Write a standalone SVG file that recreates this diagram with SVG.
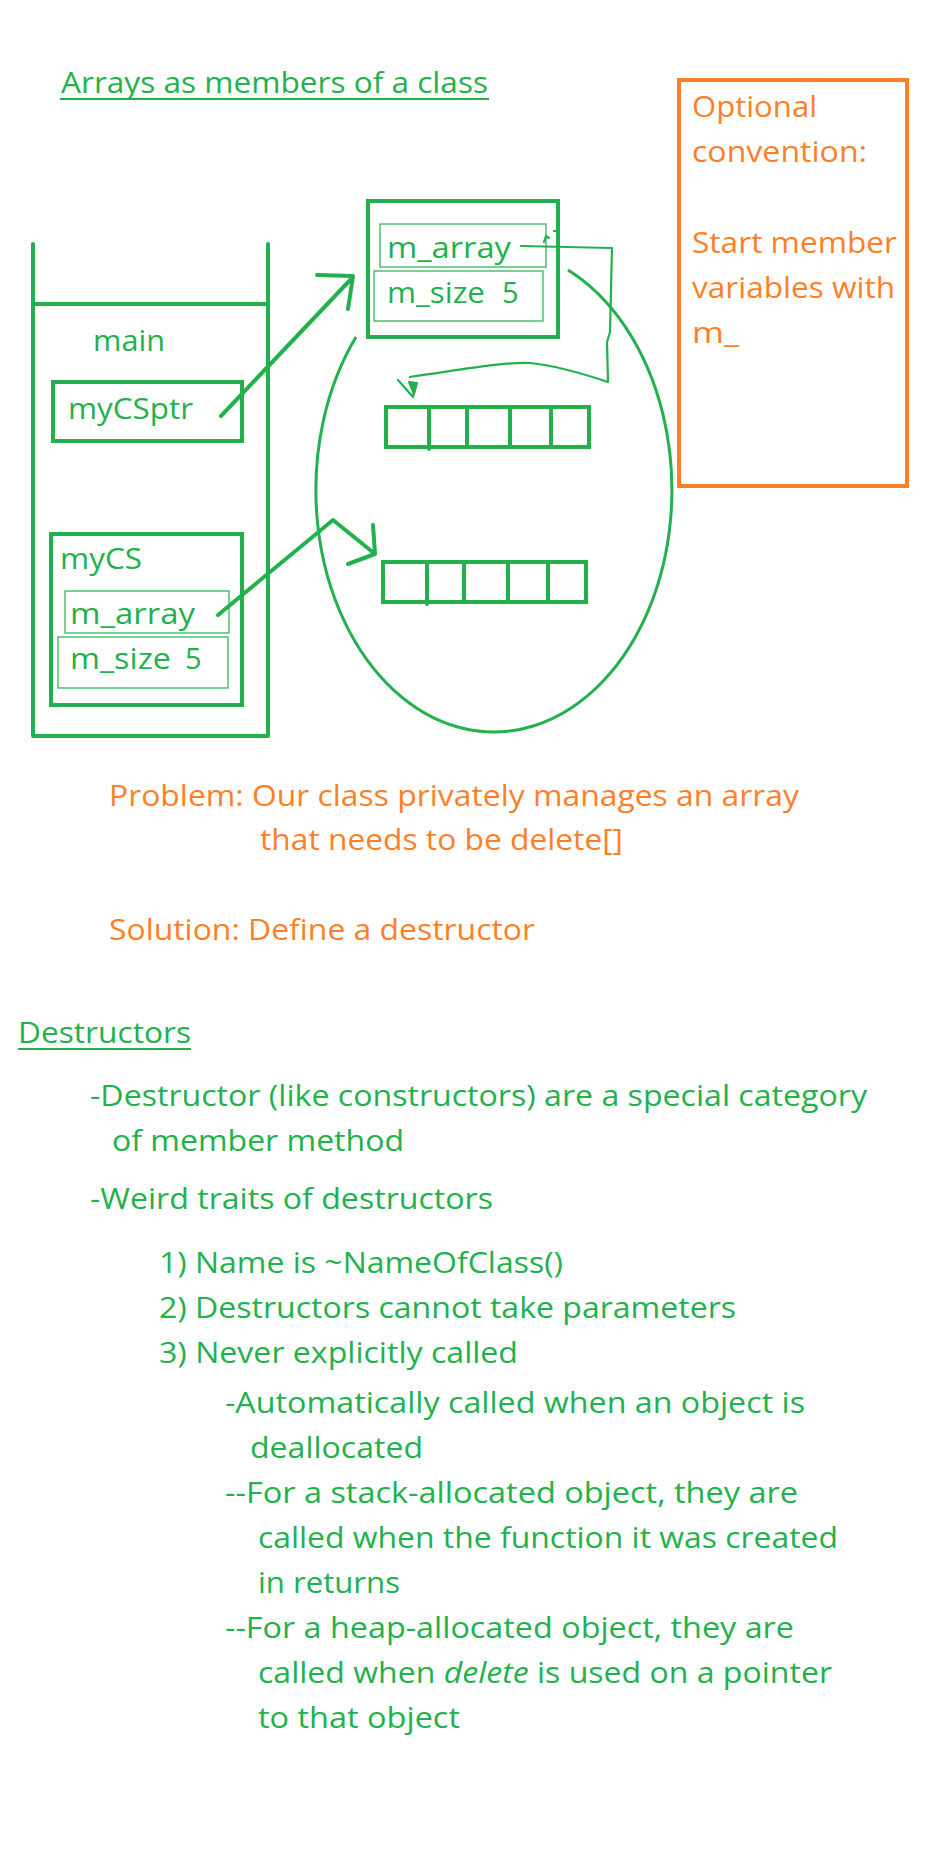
<svg xmlns="http://www.w3.org/2000/svg" width="928" height="1872" viewBox="0 0 928 1872">
<style>
.g{fill:#22B14C;font-family:"Open Sans","Noto Sans",sans-serif;font-size:29px}
.o{fill:#FF7F27;font-family:"Open Sans","Noto Sans",sans-serif;font-size:29px}
.box{fill:#fff;stroke:#22B14C;stroke-width:4}
.thin{fill:none;stroke:#22B14C;stroke-width:1.2}
.ln{fill:none;stroke:#22B14C;stroke-width:4;stroke-linecap:round;stroke-linejoin:round}
.ln2{fill:none;stroke:#22B14C;stroke-width:2.2;stroke-linecap:round;stroke-linejoin:round}
</style>
<rect width="928" height="1872" fill="#fff"/>

<g id="title">
<text class="g" x="61" y="93" font-size="31" textLength="427" lengthAdjust="spacingAndGlyphs">Arrays as members of a class</text>
<line x1="60" y1="99" x2="489" y2="99" stroke="#22B14C" stroke-width="2"/>
</g>

<g id="heap">
<path d="M568,270 A178,242 0 1 1 356,337" fill="none" stroke="#22B14C" stroke-width="3"/>
</g>

<g id="stack-frame">
<path class="ln" d="M33,244 L33,736 L268,736 L268,244 M33,304 L268,304" stroke-linecap="butt"/>
<text class="g" x="93" y="351" font-size="31" textLength="72" lengthAdjust="spacingAndGlyphs">main</text>
</g>

<g id="myCSptr">
<rect class="box" x="53" y="382" width="189" height="59"/>
<text class="g" x="68" y="419" textLength="125" lengthAdjust="spacingAndGlyphs">myCSptr</text>
</g>

<g id="myCS">
<rect class="box" x="51" y="534" width="191" height="171"/>
<text class="g" x="60" y="569" textLength="82" lengthAdjust="spacingAndGlyphs">myCS</text>
<rect class="thin" x="65" y="591" width="164" height="42"/>
<text class="g" x="70" y="624" textLength="125" lengthAdjust="spacingAndGlyphs">m_array</text>
<rect class="thin" x="58" y="637" width="170" height="51"/>
<text class="g" x="70" y="669"><tspan textLength="101" lengthAdjust="spacingAndGlyphs">m_size</tspan><tspan x="185">5</tspan></text>
</g>

<g id="heap-object">
<rect class="box" x="368" y="201" width="190" height="136"/>
<rect class="thin" x="380" y="224" width="166" height="43"/>
<text class="g" x="387" y="258" textLength="124" lengthAdjust="spacingAndGlyphs">m_array</text>
<rect class="thin" x="374" y="271" width="169" height="50"/>
<text class="g" x="387" y="303"><tspan textLength="98" lengthAdjust="spacingAndGlyphs">m_size</tspan><tspan x="502">5</tspan></text>
</g>

<g id="array1">
<rect class="box" x="386" y="407" width="203" height="40"/>
<path class="ln" d="M429,407 V449 M467,407 V447 M510,407 V447 M551,407 V447" stroke-linecap="butt"/>
</g>

<g id="array2">
<rect class="box" x="383" y="562" width="203" height="40"/>
<path class="ln" d="M427,562 V604 M464,562 V602 M508,562 V602 M548,562 V602" stroke-linecap="butt"/>
</g>

<g id="note">
<rect x="679" y="80" width="228" height="406" fill="none" stroke="#FF7F27" stroke-width="4"/>
<text class="o" x="692" y="117" textLength="125" lengthAdjust="spacingAndGlyphs">Optional</text>
<text class="o" x="692" y="162" textLength="175" lengthAdjust="spacingAndGlyphs">convention:</text>
<text class="o" x="692" y="253" textLength="205" lengthAdjust="spacingAndGlyphs">Start member</text>
<text class="o" x="692" y="298" textLength="203" lengthAdjust="spacingAndGlyphs">variables with</text>
<text class="o" x="692" y="343" textLength="47" lengthAdjust="spacingAndGlyphs">m_</text>
</g>

<g id="connectors">
<path class="ln" d="M221,416 L353,277 M317,275 L353,276 L348,309"/>
<path class="ln" d="M218,615 L333,520 L375,554 M373,525 L375,554 L348,564"/>
<path class="ln2" d="M521,246 L612,248 L610,332 L607,342 L608,382 C590,376 560,366 530,363 C500,362 460,370 410,377 M398,380 L413,397 L416,385"/>
<path d="M409,382 L417,383 L414,394 Z" fill="#22B14C" stroke="#22B14C" stroke-width="2" stroke-linejoin="round"/>
<path class="ln2" d="M544,242 L546,236 L549,238 M554,231 L557,231"/>
</g>

<g id="problem-text">
<text class="o" x="109" y="806" textLength="690" lengthAdjust="spacingAndGlyphs">Problem: Our class privately manages an array</text>
<text class="o" x="260" y="850" textLength="363" lengthAdjust="spacingAndGlyphs">that needs to be delete[]</text>
<text class="o" x="109" y="940" textLength="426" lengthAdjust="spacingAndGlyphs">Solution: Define a destructor</text>
</g>

<g id="destructors-text">
<text class="g" x="18" y="1043" textLength="173" lengthAdjust="spacingAndGlyphs">Destructors</text>
<line x1="18" y1="1049" x2="191" y2="1049" stroke="#22B14C" stroke-width="2"/>
<text class="g" x="90" y="1106" textLength="777" lengthAdjust="spacingAndGlyphs">-Destructor (like constructors) are a special category</text>
<text class="g" x="112" y="1151" textLength="292" lengthAdjust="spacingAndGlyphs">of member method</text>
<text class="g" x="90" y="1209" textLength="403" lengthAdjust="spacingAndGlyphs">-Weird traits of destructors</text>
<text class="g" x="159" y="1273" textLength="404" lengthAdjust="spacingAndGlyphs">1) Name is ~NameOfClass()</text>
<text class="g" x="159" y="1318" textLength="577" lengthAdjust="spacingAndGlyphs">2) Destructors cannot take parameters</text>
<text class="g" x="159" y="1363" textLength="359" lengthAdjust="spacingAndGlyphs">3) Never explicitly called</text>
<text class="g" x="225" y="1413" textLength="580" lengthAdjust="spacingAndGlyphs">-Automatically called when an object is</text>
<text class="g" x="250" y="1458" textLength="173" lengthAdjust="spacingAndGlyphs">deallocated</text>
<text class="g" x="225" y="1503" textLength="573" lengthAdjust="spacingAndGlyphs">--For a stack-allocated object, they are</text>
<text class="g" x="258" y="1548" textLength="580" lengthAdjust="spacingAndGlyphs">called when the function it was created</text>
<text class="g" x="258" y="1593" textLength="142" lengthAdjust="spacingAndGlyphs">in returns</text>
<text class="g" x="225" y="1638" textLength="569" lengthAdjust="spacingAndGlyphs">--For a heap-allocated object, they are</text>
<text class="g" x="258" y="1683" textLength="574" lengthAdjust="spacingAndGlyphs">called when <tspan font-style="italic">delete</tspan> is used on a pointer</text>
<text class="g" x="258" y="1728" textLength="202" lengthAdjust="spacingAndGlyphs">to that object</text>
</g>
</svg>
